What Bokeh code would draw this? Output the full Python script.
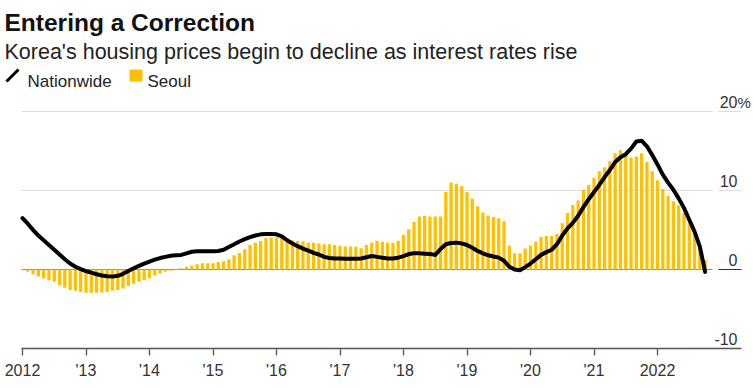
from bokeh.plotting import figure
from bokeh.models import Range1d, FixedTicker, ColumnDataSource, Label, Arrow, BoxAnnotation
from bokeh.core.properties import value
from bokeh.embed import file_html
from bokeh.resources import INLINE

# ---------------- data (monthly, Jan 2012 - Oct 2022, YoY %) ----------------
start_year = 2012
nationwide = [
    6.5, 5.8, 5.0, 4.3, 3.7, 3.1, 2.5, 1.9, 1.3, 0.75, 0.35, 0.05,
    -0.2, -0.4, -0.6, -0.75, -0.85, -0.9, -0.8, -0.55, -0.2, 0.15, 0.45, 0.75,
    1.0, 1.25, 1.45, 1.6, 1.75, 1.8, 1.85, 2.05, 2.25, 2.3, 2.3, 2.3,
    2.3, 2.35, 2.5, 2.85, 3.2, 3.55, 3.85, 4.1, 4.3, 4.45, 4.5, 4.5,
    4.45, 4.2, 3.7, 3.3, 2.95, 2.65, 2.4, 2.1, 1.9, 1.6, 1.45, 1.4,
    1.4, 1.35, 1.35, 1.35, 1.4, 1.55, 1.7, 1.6, 1.5, 1.4, 1.4, 1.5,
    1.7, 1.95, 2.05, 2.05, 2.0, 1.95, 1.85, 2.6, 3.2, 3.35, 3.4, 3.3,
    3.1, 2.75, 2.35, 2.05, 1.8, 1.65, 1.5, 1.1, 0.35, 0.0, -0.1, 0.3,
    0.75, 1.3, 1.85, 2.2, 2.5, 3.2, 4.3, 5.2, 5.9, 6.8, 7.9, 8.9,
    9.8, 10.7, 11.7, 12.6, 13.6, 14.2, 14.6, 15.3, 16.2, 16.3, 15.6, 14.5,
    13.3, 12.0, 11.0, 10.1, 9.0, 7.8, 6.3, 4.8, 2.9, -0.3,
]
seoul = [
    -0.1, -0.3, -0.6, -0.9, -1.15, -1.35, -1.55, -2.0, -2.3, -2.6, -2.7, -2.85,
    -2.95, -2.95, -2.95, -2.9, -2.85, -2.7, -2.6, -2.4, -2.1, -1.8, -1.55, -1.35,
    -1.15, -0.75, -0.5, -0.3, -0.15, 0.05, 0.15, 0.35, 0.5, 0.65, 0.8, 0.8,
    0.8, 0.95, 1.05, 1.3, 1.8, 2.1, 2.55, 3.1, 3.4, 3.6, 4.0, 4.05,
    4.05, 4.05, 3.9, 3.7, 3.6, 3.55, 3.4, 3.4, 3.3, 3.2, 3.2, 3.1,
    3.0, 2.9, 2.9, 2.9, 2.7, 3.1, 3.4, 3.65, 3.5, 3.4, 3.4, 3.65,
    4.4, 5.1, 6.0, 6.7, 6.8, 6.7, 6.7, 6.7, 9.8, 11.0, 10.85, 10.55,
    9.8, 9.0, 8.0, 7.2, 6.85, 6.65, 6.5, 6.1, 3.05, 2.05, 2.05, 2.65,
    3.05, 3.5, 4.1, 4.25, 4.25, 4.5, 5.85, 7.15, 8.15, 8.75, 10.1, 10.7,
    11.6, 12.45, 12.95, 13.75, 14.7, 15.1, 14.45, 14.15, 14.3, 14.7, 13.6, 12.45,
    11.3, 10.2, 9.35, 8.65, 8.1, 7.15, 5.85, 4.4, 2.7, 1.2,
]
year_ticks = [2012, 2013, 2014, 2015, 2016, 2017, 2018, 2019, 2020, 2021, 2022]
year_labels = ["2012", "'13", "'14", "'15", "'16", "'17", "'18", "'19", "'20", "'21", "2022"]
y_ticks = [-10, 0, 10, 20]
y_labels = ["-10", "0", "10", "20"]
grid_values = [10, 20]

# ---------------- layout constants (pixel geometry of the page) ----------------
W, H = 753, 388
B_BOTTOM = 40                  # frame covers everything above the x axis
FRAME_H = H - B_BOTTOM
PX_YEAR = 63.5                 # pixels per year
PX_PCT = 7.9                   # pixels per percentage point
X2012_PX = 22                  # pixel column of Jan 2012

def xd(px):
    """pixel column -> data x"""
    return start_year + (px - X2012_PX) / PX_YEAR

def yd(py):
    """pixel row -> data y (frame bottom = -10)"""
    return -10 + (FRAME_H - py) / PX_PCT

x0, x1 = xd(0), xd(W)
y0, y1 = -10, yd(0)

months_x = [start_year + i / 12 for i in range(len(seoul))]
src = ColumnDataSource(dict(x=months_x, seoul=seoul, nationwide=nationwide))

YELLOW = "#FFC000"
FONT = "Liberation Sans"

p = figure(width=W, height=H, x_range=Range1d(x0, x1), y_range=Range1d(y0, y1),
           output_backend="svg", toolbar_location=None, y_axis_location=None,
           min_border_left=0, min_border_right=0, min_border_top=0,
           min_border_bottom=B_BOTTOM)
p.outline_line_color = None
p.xgrid.visible = False
p.ygrid.visible = False

# gridlines (light) + zero line, with short tick segments on the right
g_start = xd(21)
g_end = xd(712)
tick_a, tick_b = xd(718), xd(741)
gsrc = ColumnDataSource(dict(y=grid_values))
p.segment(x0=g_start, y0="y", x1=g_end, y1="y", source=gsrc, line_color="#dcdcdc", line_width=1)
p.segment(x0=tick_a, y0="y", x1=tick_b, y1="y", source=gsrc, line_color="#dcdcdc", line_width=1)
zsrc = ColumnDataSource(dict(y=[0]))
p.segment(x0=g_start, y0="y", x1=g_end, y1="y", source=zsrc, line_color="#8a8a8a", line_width=1)
p.segment(x0=tick_a, y0="y", x1=tick_b, y1="y", source=zsrc, line_color="#333333", line_width=1.2)

# bars + line
p.vbar(x="x", top="seoul", bottom=0, width=0.62 / 12, source=src,
       fill_color=YELLOW, line_color=None)
p.line(x="x", y="nationwide", source=src, line_color="black", line_width=4,
       line_join="round", line_cap="round")

# right-side y labels, sitting above their lines; unit sign hangs to the right
LAB_RIGHT = 737
lab_y = [t + 9.5 / PX_PCT for t in y_ticks]
lsrc = ColumnDataSource(dict(x=[xd(LAB_RIGHT)] * len(y_labels), y=lab_y, text=y_labels))
p.text(x="x", y="y", text="text", source=lsrc, text_align="right",
       text_baseline="alphabetic", text_font=value(FONT), text_font_size="16px",
       text_color="#333333")
usrc = ColumnDataSource(dict(x=[xd(LAB_RIGHT)], y=[lab_y[-1]], text=["%"]))
p.text(x="x", y="y", text="text", source=usrc, text_align="left",
       text_baseline="alphabetic", text_font=value(FONT), text_font_size="15px",
       text_color="#333333")

# x axis
ax = p.xaxis[0]
ax.ticker = FixedTicker(ticks=year_ticks)
ax.major_label_overrides = {t: l for t, l in zip(year_ticks, year_labels)}
ax.minor_tick_line_color = None
ax.major_tick_in = 0
ax.major_tick_out = 7
ax.axis_line_color = "#555555"
ax.major_tick_line_color = "#555555"
ax.axis_line_width = 1.3
ax.major_tick_line_width = 1.3
ax.bounds = (xd(21), xd(741))
ax.major_label_text_font = FONT
ax.major_label_text_font_size = "16px"
ax.major_label_text_color = "#333333"
ax.major_label_standoff = 6

# title, subtitle, legend
p.add_layout(Label(x=xd(4), y=yd(21.7), text="Entering a Correction", text_font=FONT,
                   text_font_style="bold", text_font_size="24.5px", text_color="#111111",
                   text_baseline="alphabetic"))
p.add_layout(Label(x=xd(4), y=yd(51.7),
                   text="Korea's housing prices begin to decline as interest rates rise",
                   text_font=FONT, text_font_size="21.5px", text_color="#222222",
                   text_baseline="alphabetic"))
p.add_layout(Arrow(x_start=xd(6), y_start=yd(81), x_end=xd(18), y_end=yd(69),
                   end=None, line_color="black", line_width=3))
p.add_layout(Label(x=xd(27), y=yd(81), text="Nationwide", text_font=FONT,
                   text_font_size="17px", text_color="#222222", text_baseline="alphabetic"))
p.add_layout(BoxAnnotation(left=xd(129), right=xd(142), bottom=yd(81), top=yd(69),
                           fill_color=YELLOW, fill_alpha=1, line_color=None))
p.add_layout(Label(x=xd(147), y=yd(81), text="Seoul", text_font=FONT,
                   text_font_size="17px", text_color="#222222", text_baseline="alphabetic"))

open("out.html", "w").write(file_html(p, INLINE))
